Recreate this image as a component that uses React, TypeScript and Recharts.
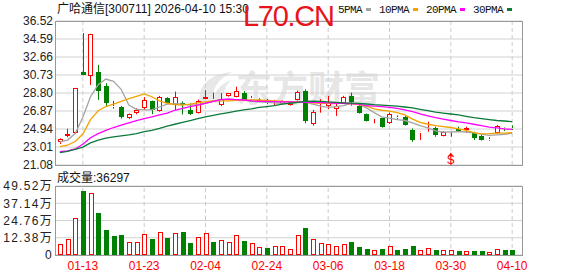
import React from "react";
import {
  ComposedChart,
  Bar,
  Line,
  XAxis,
  YAxis,
  CartesianGrid,
  ReferenceLine,
  ReferenceDot,
} from "recharts";

const STOCK_NAME = "广哈通信";
const STOCK_INFO = "[300711] 2026-04-10 15:30";

const DATES = [
  "01-08", "01-09", "01-12", "01-13", "01-14", "01-15", "01-16", "01-19", "01-20", "01-21",
  "01-22", "01-23", "01-26", "01-27", "01-28", "01-29", "01-30", "02-02", "02-03", "02-04",
  "02-05", "02-06", "02-09", "02-10", "02-11", "02-12", "02-13", "02-24", "02-25", "02-26",
  "02-27", "03-02", "03-03", "03-04", "03-05", "03-06", "03-09", "03-10", "03-11", "03-12",
  "03-13", "03-16", "03-17", "03-18", "03-19", "03-20", "03-23", "03-24", "03-25", "03-26",
  "03-27", "03-30", "03-31", "04-01", "04-02", "04-03", "04-07", "04-08", "04-09", "04-10",
];

const OPEN = [
  23.51, 24.22, 24.48, 31.04, 30.61, 31.0, 29.6, 27.44, 27.27, 26.09,
  26.63, 27.23, 27.95, 26.91, 28.27, 27.52, 27.77, 27.0, 26.69, 28.2,
  28.15, 27.5, 28.45, 28.41, 28.85, 28.2, 27.85, 28.1, 27.82, 27.63,
  27.52, 28.1, 29.03, 25.44, 27.6, 27.45, 27.06, 27.77, 28.49, 27.41,
  26.55, 25.98, 26.09, 25.55, 26.2, 26.26, 24.83, 24.5, 24.91, 25.0,
  24.19, 24.62, 24.91, 24.8, 24.48, 24.2, 23.8, 24.48, 25.05, 25.0,
];
const HIGH = [
  23.94, 24.97, 29.35, 35.23, 35.15, 31.82, 29.85, 27.95, 27.41, 26.6,
  27.17, 28.35, 27.98, 28.49, 28.35, 28.95, 27.9, 27.7, 28.1, 29.1,
  28.84, 28.78, 28.8, 29.47, 29.0, 28.5, 28.25, 28.15, 28.06, 28.0,
  27.9, 29.05, 29.2, 26.98, 28.13, 28.49, 27.77, 28.5, 28.84, 27.5,
  26.6, 26.12, 26.15, 26.7, 26.4, 26.35, 25.0, 24.65, 25.72, 25.19,
  24.7, 24.75, 25.19, 25.19, 24.65, 24.3, 24.05, 25.37, 25.1, 25.34,
];
const LOW = [
  23.33, 24.05, 24.4, 30.7, 29.67, 28.06, 27.35, 27.12, 26.05, 26.0,
  26.52, 26.98, 26.52, 26.8, 27.59, 26.98, 26.5, 26.45, 26.6, 28.15,
  27.95, 27.41, 28.4, 28.35, 27.95, 27.95, 27.8, 27.6, 27.49, 27.55,
  27.45, 28.0, 25.55, 25.3, 26.69, 27.06, 26.34, 27.7, 27.45, 26.6,
  25.75, 25.55, 25.1, 25.5, 25.95, 25.3, 23.57, 23.76, 24.65, 24.11,
  24.15, 24.11, 24.65, 24.55, 23.76, 23.7, 23.68, 24.45, 24.72, 24.83,
];
const CLOSE = [
  23.83, 24.4, 29.32, 30.78, 35.08, 29.06, 27.77, 27.27, 26.26, 26.52,
  26.98, 28.06, 26.98, 28.41, 27.7, 28.41, 27.49, 26.55, 27.98, 28.4,
  28.05, 28.13, 28.75, 29.0, 28.1, 28.3, 28.1, 27.7, 27.95, 27.95,
  27.84, 28.95, 25.8, 26.8, 27.77, 27.7, 27.41, 28.41, 27.88, 26.63,
  25.8, 26.09, 25.19, 26.55, 26.1, 25.4, 23.76, 24.62, 25.08, 24.29,
  24.65, 24.72, 24.76, 25.0, 23.94, 23.76, 23.9, 25.26, 24.95, 24.9,
];
const VOLUME = [
  77000, 118000, 262000, 459000, 445000, 303000, 178000, 135000, 142000, 96000,
  96000, 154000, 118000, 168000, 120000, 161000, 164000, 84000, 132000, 161000,
  91000, 111000, 96000, 140000, 99000, 83000, 56000, 49000, 62000, 62000,
  40000, 144000, 195000, 115000, 87000, 79000, 65000, 79000, 94000, 58000,
  43000, 36000, 43000, 65000, 36000, 43000, 65000, 36000, 48000, 36000,
  36000, 36000, 31000, 29000, 29000, 29000, 22000, 41000, 36000, 36297,
];

const MA5 = [
  23.55, 23.75, 24.45, 26.2, 28.4, 29.7, 30.3, 30.05, 29.2, 27.5,
  27.05, 26.98, 27.0, 27.3, 27.6, 27.65, 27.6, 27.5, 27.55, 27.7,
  27.9, 28.1, 28.15, 28.1, 28.05, 27.9, 27.85, 27.8, 27.75, 27.7,
  27.7, 27.8, 27.85, 27.6, 27.4, 27.25, 27.35, 27.45, 27.7, 27.6,
  27.2, 26.7, 26.25, 26.1, 25.95, 25.85, 25.6, 25.3, 25.05, 24.75,
  24.6, 24.62, 24.65, 24.62, 24.52, 24.4, 24.25, 24.3, 24.36, 24.5,
];
const MA10 = [
  23.05, 23.2, 23.6, 24.4, 25.95, 26.9, 27.35, 27.6, 27.9, 28.2,
  28.45, 28.7, 28.4, 27.95, 27.7, 27.55, 27.5, 27.6, 27.75, 27.85,
  27.95, 27.95, 27.95, 28.0, 28.05, 28.05, 28.05, 28.0, 27.95, 27.9,
  27.85, 27.85, 27.8, 27.75, 27.7, 27.7, 27.7, 27.7, 27.65, 27.55,
  27.4, 27.1, 26.95, 26.85, 26.7, 26.45, 26.0, 25.65, 25.45, 25.3,
  25.2, 25.1, 24.95, 24.8, 24.55, 24.42, 24.45, 24.5, 24.5, 24.55,
];
const MA20 = [
  22.5, 22.6, 22.8, 23.3, 24.0, 24.45, 24.8, 25.1, 25.35, 25.6,
  25.85, 26.05, 26.25, 26.45, 26.65, 26.95, 27.15, 27.35, 27.5, 27.7,
  27.9, 28.1, 28.15, 28.1, 28.05, 27.95, 27.9, 27.9, 27.88, 27.85,
  27.85, 27.82, 27.8, 27.8, 27.78, 27.75, 27.7, 27.7, 27.65, 27.6,
  27.45, 27.4, 27.35, 27.25, 27.15, 27.0, 26.8, 26.55, 26.35, 26.15,
  26.0, 25.85, 25.7, 25.6, 25.45, 25.3, 25.15, 25.05, 24.95, 24.9,
];
const MA30 = [
  22.4, 22.55, 22.75, 23.0, 23.45, 23.75, 23.95, 24.1, 24.2, 24.3,
  24.45, 24.65, 24.8, 25.0, 25.25, 25.45, 25.65, 25.85, 26.05, 26.25,
  26.4, 26.55, 26.7, 26.85, 27.0, 27.1, 27.25, 27.35, 27.45, 27.6,
  27.7, 27.8, 27.9, 27.92, 27.9, 27.85, 27.8, 27.75, 27.72, 27.68,
  27.62, 27.55, 27.5, 27.45, 27.4, 27.3, 27.2, 27.05, 26.9, 26.75,
  26.65, 26.55, 26.45, 26.3, 26.15, 26.05, 25.95, 25.85, 25.8, 25.72,
];

const DATE_TICKS = ["01-13", "01-23", "02-04", "02-24", "03-06", "03-18", "03-30", "04-10"];
const PRICE_TICKS = [21.08, 23.01, 24.94, 26.87, 28.8, 30.73, 32.66, 34.59, 36.52];
const VOL_TICKS = [0, 123800, 247600, 371400, 495200];

const MA_SERIES = [
  { name: "5PMA", key: "ma5", color: "#a3a3a3" },
  { name: "10PMA", key: "ma10", color: "#f2a300" },
  { name: "20PMA", key: "ma20", color: "#ff00ff" },
  { name: "30PMA", key: "ma30", color: "#0b7a3b" },
];

const SIGNALS = [{ date: "03-30", price: 22.0, label: "S" }];

const RED = "#ff0000";
const GREEN = "#008000";

const rows = DATES.map((date, i) => ({
  date,
  open: OPEN[i],
  high: HIGH[i],
  low: LOW[i],
  close: CLOSE[i],
  volume: VOLUME[i],
  ma5: MA5[i],
  ma10: MA10[i],
  ma20: MA20[i],
  ma30: MA30[i],
}));

const Candle = (props: any) => {
  const { x, y, width, height, payload } = props;
  const { open, close, high, low } = payload;
  const up = close >= open;
  const color = up ? RED : GREEN;
  const range = high - low || 1;
  const py = (v: number) => y + ((high - v) / range) * height;
  const left = Math.round(x + width / 2) - 2;
  const wx = left + 2.5;
  const top = Math.round(py(Math.max(open, close)));
  const bot = Math.round(py(Math.min(open, close)));
  return (
    <g>
      <line x1={wx} x2={wx} y1={y} y2={top} stroke={color} />
      <line x1={wx} x2={wx} y1={bot} y2={y + height} stroke={color} />
      <rect
        x={left + 0.5}
        y={top + 0.5}
        width={4}
        height={Math.max(bot - top - 1, 0)}
        fill={up ? "#fff" : color}
        stroke={color}
      />
    </g>
  );
};

const VolumeBar = (props: any) => {
  const { x, y, width, height, payload } = props;
  if (!height) return null;
  const up = payload.close >= payload.open;
  const color = up ? RED : GREEN;
  const left = Math.round(x + width / 2) - 2;
  return (
    <rect
      x={left + 0.5}
      y={Math.round(y) + 0.5}
      width={4}
      height={Math.max(Math.round(height) - 1, 0)}
      fill={up ? "#fff" : color}
      stroke={color}
    />
  );
};

const SignalMark = (label: string) => (props: any) => {
  const { cx, cy } = props;
  return (
    <g>
      <path d={`M${cx - 2.5},${cy - 0.5} L${cx},${cy - 4} L${cx + 2.5},${cy - 0.5} Z`} fill={RED} />
      <line x1={cx} x2={cx} y1={cy - 1} y2={cy + 9} stroke={RED} />
      <text x={cx} y={cy + 8} textAnchor="middle" fill={RED} fontSize={12} fontFamily="Liberation Sans">
        {label}
      </text>
    </g>
  );
};

const axisFont = { fill: "#222", fontSize: 12, fontFamily: "Liberation Sans, Noto Sans CJK SC" };

export default function App() {
  let legendX = 338;
  const legend = MA_SERIES.map((s) => {
    const tx = legendX;
    const w = s.name.length * 6;
    legendX += w + 4 + 5 + 8;
    return (
      <g key={s.key}>
        <text x={tx} y={12.5} fontSize={11} letterSpacing={-0.6} fontFamily="Liberation Mono" fill="#111">
          {s.name}
        </text>
        <rect x={tx + w + 4} y={8} width={5} height={3} fill={s.color} />
      </g>
    );
  });

  return (
    <div style={{ position: "relative", width: 578, height: 276, background: "#fff", overflow: "hidden" }}>
      <style>{"body{margin:0}"}</style>

      {/* watermark */}
      <svg width={578} height={276} style={{ position: "absolute", left: 0, top: 0 }}>
        <path d="M200,103 C197,86 209,74 232,72 C218,79 211,89 213,103 Z" fill="#e8e8e8" />
        <path d="M214,103 C213,92 220,84 231,80 C224,87 222,95 224,103 Z" fill="#e8e8e8" />
        <text x={236} y={102} fontSize={36} fontWeight="bold" fontFamily="Noto Sans CJK SC" fill="#e6e6e6">
          东方财富
        </text>
      </svg>

      {/* price panel */}
      <div style={{ position: "absolute", left: 0, top: 0 }}>
        <ComposedChart width={578} height={173} data={rows} margin={{ top: 21, right: 56, bottom: 8, left: 0 }}>
          <CartesianGrid vertical={false} stroke="#d2d2d2" />
          <XAxis dataKey="date" hide padding={{ left: 0, right: 6 }} />
          <YAxis
            domain={[21.08, 36.52]}
            ticks={PRICE_TICKS}
            interval={0}
            allowDataOverflow
            width={56}
            axisLine={false}
            tickLine={false}
            tickSize={0}
            tickMargin={3}
            tick={axisFont}
            tickFormatter={(v: number) => v.toFixed(2)}
          />
          {DATE_TICKS.map((d) => (
            <ReferenceLine key={d} x={d} stroke="#cccccc" strokeDasharray="4 3" zIndex={-50} />
          ))}
          <Bar dataKey={(d: any) => [d.low, d.high]} barSize={7} shape={Candle} isAnimationActive={false} />
          {MA_SERIES.map((s) => (
            <Line
              key={s.key}
              type="linear"
              dataKey={s.key}
              stroke={s.color}
              strokeWidth={1.3}
              dot={false}
              activeDot={false}
              isAnimationActive={false}
            />
          ))}
          {SIGNALS.map((s) => (
            <ReferenceDot key={s.date} x={s.date} y={s.price} r={0} shape={SignalMark(s.label)} />
          ))}
        </ComposedChart>
      </div>

      {/* volume panel */}
      <div style={{ position: "absolute", left: 0, top: 176 }}>
        <ComposedChart width={578} height={100} data={rows} margin={{ top: 10, right: 56, bottom: 0, left: 0 }}>
          <CartesianGrid vertical={false} stroke="#d2d2d2" />
          <XAxis
            dataKey="date"
            ticks={DATE_TICKS}
            interval={0}
            padding={{ left: 0, right: 6 }}
            axisLine={false}
            tickLine={false}
            tickSize={4}
            tickMargin={2}
            height={21}
            tick={{ fill: RED, fontSize: 12, fontFamily: "Liberation Sans" }}
          />
          <YAxis
            domain={[0, 495200]}
            ticks={VOL_TICKS}
            interval={0}
            allowDataOverflow
            width={56}
            axisLine={false}
            tickLine={false}
            tickSize={0}
            tickMargin={3}
            tick={{ ...axisFont, letterSpacing: 1.3 }}
            tickFormatter={(v: number) => (v === 0 ? "0" : (v / 10000).toFixed(2) + "万")}
          />
          {DATE_TICKS.map((d) => (
            <ReferenceLine key={d} x={d} stroke="#cccccc" strokeDasharray="4 3" zIndex={-50} />
          ))}
          <Bar dataKey="volume" barSize={6} shape={VolumeBar} isAnimationActive={false} />
        </ComposedChart>
      </div>

      {/* frames */}
      <div
        style={{
          position: "absolute", left: 55, top: 21, width: 468, height: 145,
          border: "1px solid #999", boxSizing: "border-box", pointerEvents: "none",
        }}
      />
      <div
        style={{
          position: "absolute", left: 55, top: 186, width: 468, height: 70,
          border: "1px solid #999", boxSizing: "border-box", pointerEvents: "none",
        }}
      />

      {/* titles */}
      <svg width={578} height={276} style={{ position: "absolute", left: 0, top: 0, pointerEvents: "none" }}>
        <text x={57} y={13} fontSize={12} fill="#111">
          <tspan fontFamily="Noto Sans CJK SC">{STOCK_NAME}</tspan>
          <tspan fontFamily="Liberation Sans">{STOCK_INFO}</tspan>
        </text>
        <text x={243} y={26} fontSize={29} letterSpacing={-1.3} fontFamily="Liberation Sans" fill="#e8141c">
          L70.CN
        </text>
        {legend}
        <text x={57} y={182} fontSize={12} fill="#111">
          <tspan fontFamily="Noto Sans CJK SC">成交量</tspan>
          <tspan fontFamily="Liberation Sans">:{VOLUME[VOLUME.length - 1]}</tspan>
        </text>
      </svg>
    </div>
  );
}
